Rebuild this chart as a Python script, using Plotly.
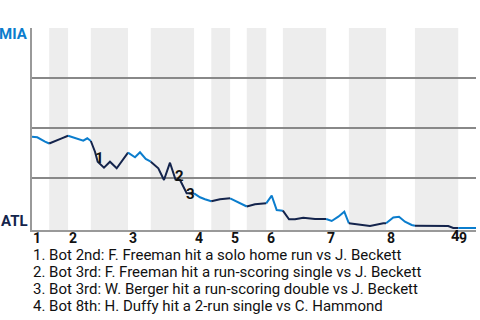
import bisect
import plotly.graph_objects as go

# Half-inning boundaries on the play axis (top 1, bot 1, top 2, ...)
half_bounds = [0, 3.1, 6.5, 10.6, 17.3, 21.4, 29.2, 32.3, 35.7, 38.7, 42.2,
               45.2, 53.0, 57.1, 63.8, 69.0, 76.8, 80]
inning_labels = ["1", "2", "3", "4", "5", "6", "7", "8", "9"]

# Win probability for MIA (%) by play index
play_x = [0, 0.95, 2.34, 3.1, 4.45, 5.35, 6.5, 7.44, 8.65, 9.24, 9.96, 10.6,
          11.35, 11.84, 12.97, 14.05, 15.26, 17.3, 18.56, 19.46, 20.49, 21.4,
          22.76, 23.78, 24.86, 25.86, 26.67, 27.87, 29.2, 30.27, 31.17, 32.3,
          33.87, 35.7, 36.58, 37.35, 38.07, 38.7, 40.18, 42.2, 43.19, 44.09,
          45.2, 46.31, 47.39, 48.88, 50.99, 53.0, 54.0, 55.19, 56.27, 57.1,
          58.5, 60.9, 63.3, 63.8, 65.1, 66.13, 67.2, 68.41, 69.0, 75.0, 75.9,
          76.8, 78.02, 78.9, 80]
mia_wp = [45.65, 45.35, 43.15, 42.25, 44.0, 44.85, 46.15, 45.35, 44.0, 43.65,
          44.85, 43.5, 38.15, 33.15, 30.15, 33.15, 29.85, 37.65, 35.35, 37.85,
          34.5, 33.15, 29.85, 24.0, 32.65, 24.25, 24.0, 17.35, 17.35, 15.35,
          14.35, 13.35, 14.35, 14.85, 13.65, 12.65, 11.85, 10.75, 11.85, 12.35,
          16.15, 9.0, 8.65, 4.35, 4.35, 5.15, 4.5, 4.5, 3.5, 5.65, 8.15, 2.35,
          1.85, 1.0, 2.35, 2.35, 5.25, 5.65, 3.15, 1.5, 1.15, 1.0, 0.0, 0.0,
          0.15, 0.0, 0.0]

events = [
    "1. Bot 2nd: F. Freeman hit a solo home run vs J. Beckett",
    "2. Bot 3rd: F. Freeman hit a run-scoring single vs J. Beckett",
    "3. Bot 3rd: W. Berger hit a run-scoring double vs J. Beckett",
    "4. Bot 8th: H. Duffy hit a 2-run single vs C. Hammond",
]
event_points = [13, 25, 27, 62]

MIA_BLUE = "#0b7dcd"
ATL_NAVY = "#14244c"
FONT = "Roboto"

fig = go.Figure()

# shaded bottom half-innings
shapes = []
for i in range(1, len(half_bounds) - 1, 2):
    shapes.append(dict(type="rect", xref="x", yref="paper",
                       x0=half_bounds[i], x1=half_bounds[i + 1], y0=0, y1=1,
                       fillcolor="#ededed", line=dict(width=0), layer="below"))

# line segments coloured by batting team
def seg_color(i):
    mid = (play_x[i] + play_x[i + 1]) / 2
    h = bisect.bisect_right(half_bounds, mid) - 1
    return MIA_BLUE if h % 2 == 0 else ATL_NAVY

groups = []
for i in range(len(play_x) - 1):
    c = seg_color(i)
    if groups and groups[-1][0] == c:
        groups[-1][1].append(i + 1)
    else:
        groups.append([c, [i, i + 1]])

for c, idx in groups:
    fig.add_trace(go.Scatter(x=[play_x[k] for k in idx], y=[mia_wp[k] for k in idx],
                             mode="lines", line=dict(color=c, width=2),
                             hoverinfo="skip", showlegend=False))

annotations = []
event_shift = [(2, 4), (4, 4), (4, -1), (2, -8)]
for n, (p, (dx, dy)) in enumerate(zip(event_points, event_shift)):
    annotations.append(dict(x=play_x[p], y=mia_wp[p], xref="x", yref="y",
                            text=str(n + 1), showarrow=False, xshift=dx, yshift=dy,
                            font=dict(family=FONT, size=15, color="#111", weight="bold"),
                            xanchor="center", yanchor="middle"))

for k, lab in enumerate(inning_labels):
    annotations.append(dict(x=half_bounds[2 * k], y=0, xref="x", yref="paper",
                            text=lab, showarrow=False,
                            xanchor="left", yanchor="middle", yshift=-8, xshift=-1,
                            font=dict(family=FONT, size=14, color="#111", weight="bold")))

annotations.append(dict(x=0, y=1, xref="paper", yref="paper", text="MIA",
                        showarrow=False, xanchor="right", yanchor="middle",
                        xshift=-2, yshift=-6,
                        font=dict(family=FONT, size=15, color=MIA_BLUE, weight="bold")))
annotations.append(dict(x=0, y=0, xref="paper", yref="paper", text="ATL",
                        showarrow=False, xanchor="right", yanchor="middle",
                        xshift=-2, yshift=9,
                        font=dict(family=FONT, size=15, color=ATL_NAVY, weight="bold")))

for j, t in enumerate(events):
    annotations.append(dict(x=0, y=0, xref="paper", yref="paper", text=t,
                            showarrow=False, xanchor="left", yanchor="middle",
                            yshift=-25 - 17 * j, xshift=-1,
                            font=dict(family=FONT, size=15, color="#111")))

fig.update_layout(
    width=480, height=320,
    margin=dict(l=32, r=4, t=28, b=90),
    plot_bgcolor="white", paper_bgcolor="white",
    shapes=shapes, annotations=annotations,
    showlegend=False, hovermode=False,
    xaxis=dict(range=[0, 80], showgrid=False, zeroline=False, showticklabels=False,
               showline=True, linecolor="#999", linewidth=1.5, ticks=""),
    yaxis=dict(range=[-1, 100], tickvals=[25, 50, 75, 100], showticklabels=False,
               showgrid=True, gridcolor="#888", gridwidth=1.5, zeroline=False,
               showline=True, linecolor="#999", linewidth=1.5, ticks=""),
)

fig.write_html("out.html")
